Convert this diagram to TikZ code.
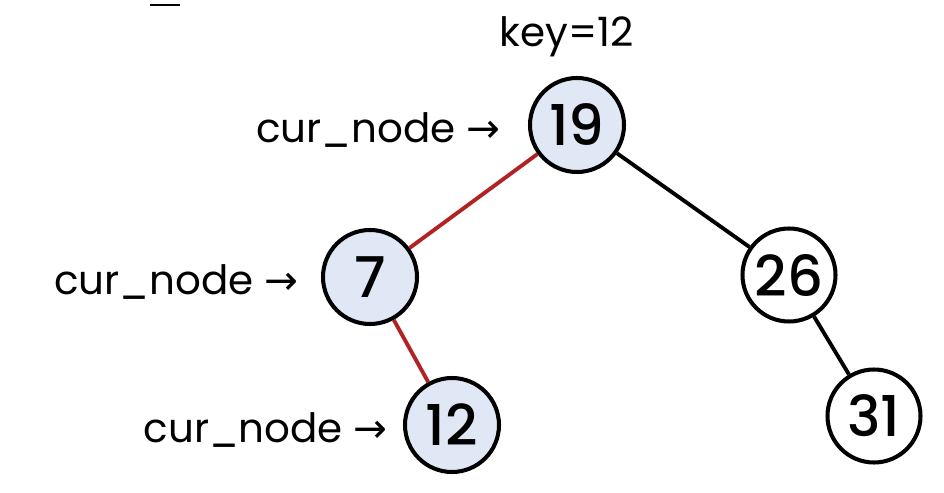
\documentclass[tikz,border=0pt]{standalone}
\usepackage{fontspec}
\usepackage{tikz}
\usetikzlibrary{positioning}
\setmainfont{Poppins}
\newfontfamily\digitfont{Poppins Medium}
\newfontfamily\arrowfont{DejaVu Sans}
\definecolor{nodeblue}{RGB}{223,232,244}
\definecolor{pathred}{RGB}{178,34,34}
\definecolor{black}{RGB}{0,0,0}
\tikzset{
	visited/.style={circle,draw=black,fill=nodeblue,line width=2.3pt,minimum size=1.88cm,inner sep=0pt,font=\digitfont\fontsize{32}{32}\selectfont},
	plain/.style={circle,draw=black,fill=white,line width=2.3pt,minimum size=1.86cm,inner sep=0pt,font=\digitfont\fontsize{32}{32}\selectfont},
	ptr/.style={inner sep=0pt,yshift=-0.1cm,font=\fontsize{23}{23}\selectfont}
}

\begin{document}
\begin{tikzpicture}
	\useasboundingbox (0,0) rectangle (18.88,9.84);
	\node[visited] (19) at (11.54,7.34) {19};
	\node[visited] (7) at (7.40,4.30) {7};
	\node[plain] (26) at (15.78,4.34) {26};
	\node[visited] (12) at (9.04,1.34) {12};
	\node[plain] (31) at (17.48,1.52) {31};
	
	\node[ptr] (key) at (11.34,9.20) {key=12};
	\node[ptr,left=0.55cm of 19] (p19) {cur\_node {\arrowfont→}};
	\node[ptr,left=0.45cm of 7] (p7) {cur\_node {\arrowfont→}};
	\node[ptr,left=0.3cm of 12] (p12) {cur\_node {\arrowfont→}};
	
	\coordinate (dashl) at (3.0,9.74);
	\coordinate (dashr) at (3.6,9.74);
	\draw[black,line width=1.7pt] (dashl) -- (dashr);
	
	\foreach \x/\y in {19/7,7/12}
		\draw[pathred,line width=2.2pt] (\x) -- (\y);
	\foreach \x/\y in {19/26,26/31}
		\draw[black,line width=2.2pt] (\x) -- (\y);
\end{tikzpicture}
\end{document}
